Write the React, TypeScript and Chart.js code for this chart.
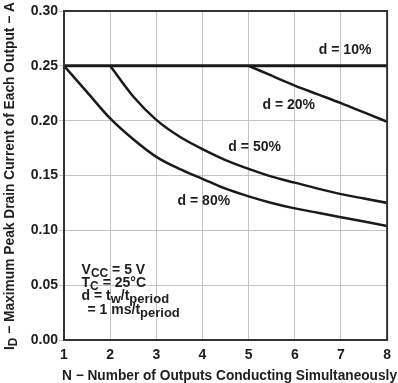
import React, { useEffect, useRef } from "react";
import { Chart, registerables } from "chart.js";

Chart.register(...registerables);

// Number of outputs conducting simultaneously
const N = [1, 1.5, 2, 2.5, 3, 3.5, 4, 4.5, 5, 5.5, 6, 6.5, 7, 7.5, 8];
// Maximum peak drain current (A) per duty cycle
const d10 = [0.25, 0.25, 0.25, 0.25, 0.25, 0.25, 0.25, 0.25, 0.25, 0.25, 0.25, 0.25, 0.25, 0.25, 0.25];
const d20 = [null, null, null, null, null, null, null, null, 0.25, 0.241, 0.232, 0.224, 0.216, 0.2075, 0.199];
const d50 = [null, null, 0.25, 0.222, 0.2007, 0.1855, 0.174, 0.164, 0.156, 0.149, 0.1435, 0.138, 0.133, 0.129, 0.125];
const d80 = [0.25, 0.226, 0.202, 0.183, 0.167, 0.156, 0.147, 0.138, 0.131, 0.125, 0.12, 0.116, 0.112, 0.108, 0.104];

const xTicks = [1, 2, 3, 4, 5, 6, 7, 8];
const yTicks = [0, 0.05, 0.1, 0.15, 0.2, 0.25, 0.3];

const curveLabels = [
  { text: "d = 10%", x: 7.09, y: 0.264 },
  { text: "d = 20%", x: 5.87, y: 0.214 },
  { text: "d = 50%", x: 5.13, y: 0.176 },
  { text: "d = 80%", x: 4.03, y: 0.127 },
];

const FONT_FAMILY = '"Liberation Sans", Arial, Helvetica, sans-serif';
const TEXT = "#1e1e1e";

type Part = { t: string; sub?: boolean };

function drawRich(ctx: CanvasRenderingContext2D, parts: Part[], x: number, y: number, size: number, subSize: number) {
  let cx = x;
  for (const p of parts) {
    ctx.font = `bold ${p.sub ? subSize : size}px ${FONT_FAMILY}`;
    ctx.fillText(p.t, cx, p.sub ? y + 3 : y);
    cx += ctx.measureText(p.t).width;
  }
  return cx - x;
}

function richWidth(ctx: CanvasRenderingContext2D, parts: Part[], size: number, subSize: number) {
  let w = 0;
  for (const p of parts) {
    ctx.font = `bold ${p.sub ? subSize : size}px ${FONT_FAMILY}`;
    w += ctx.measureText(p.t).width;
  }
  return w;
}

const toPts = (vals: (number | null)[]) =>
  N.map((x, i) => ({ x, y: vals[i] })).filter((p) => p.y !== null) as { x: number; y: number }[];

const overlay = {
  id: "overlay",
  afterDraw(chart: any) {
    const { ctx, chartArea: a, scales } = chart;
    const xs = scales.x;
    const ys = scales.y;
    ctx.save();
    // frame
    ctx.strokeStyle = "#333";
    ctx.lineWidth = 2;
    ctx.strokeRect(a.left, a.top, a.right - a.left, a.bottom - a.top);

    ctx.fillStyle = TEXT;
    // curve labels
    ctx.font = `bold 14px ${FONT_FAMILY}`;
    ctx.textAlign = "center";
    ctx.textBaseline = "middle";
    for (const l of curveLabels) {
      ctx.fillText(l.text, xs.getPixelForValue(l.x), ys.getPixelForValue(l.y));
    }
    ctx.textAlign = "left";
    ctx.textBaseline = "alphabetic";

    // conditions block
    const bx = xs.getPixelForValue(1.38);
    drawRich(ctx, [{ t: "V" }, { t: "CC", sub: true }, { t: " = 5 V" }], bx, ys.getPixelForValue(0.06), 14, 12);
    drawRich(ctx, [{ t: "T" }, { t: "C", sub: true }, { t: " = 25°C" }], bx, ys.getPixelForValue(0.0483), 14, 12);
    drawRich(ctx, [{ t: "d = t" }, { t: "w", sub: true }, { t: "/t" }, { t: "period", sub: true }], bx, ys.getPixelForValue(0.0365), 14, 13);
    drawRich(ctx, [{ t: "= 1 ms/t" }, { t: "period", sub: true }], xs.getPixelForValue(1.51), ys.getPixelForValue(0.0237), 14, 13);

    // x title
    const xt = "N − Number of Outputs Conducting Simultaneously";
    ctx.font = `bold 14px ${FONT_FAMILY}`;
    const xw = ctx.measureText(xt).width;
    const xTarget = 335;
    ctx.save();
    ctx.translate(62, 380);
    ctx.scale(xTarget / xw, 1);
    ctx.fillText(xt, 0, 0);
    ctx.restore();

    // y title
    const yParts: Part[] = [{ t: "I" }, { t: "D", sub: true }, { t: " − Maximum Peak Drain Current of Each Output − A" }];
    const yw = richWidth(ctx, yParts, 14, 12);
    const yTarget = 348;
    ctx.save();
    ctx.translate(14, 350);
    ctx.rotate(-Math.PI / 2);
    ctx.scale(yTarget / yw, 1);
    drawRich(ctx, yParts, 0, 0, 14, 12);
    ctx.restore();

    ctx.restore();
  },
};

export default function App() {
  const ref = useRef<HTMLCanvasElement | null>(null);
  useEffect(() => {
    if (!ref.current) return;
    const lineDs = (vals: (number | null)[], w: number) => ({
      data: toPts(vals),
      borderColor: "#1a1a1a",
      borderWidth: w,
      pointRadius: 0,
      fill: false,
      cubicInterpolationMode: "monotone" as const,
    });
    const chart = new Chart(ref.current, {
      type: "line",
      data: {
        datasets: [lineDs(d10, 3), lineDs(d20, 2.5), lineDs(d50, 2.5), lineDs(d80, 2.5)],
      },
      options: {
        animation: false,
        responsive: false,
        devicePixelRatio: 1,
        layout: { padding: { top: 11, right: 5, left: 0, bottom: 0 } },
        plugins: { legend: { display: false }, tooltip: { enabled: false } },
        scales: {
          x: {
            type: "linear",
            min: 1,
            max: 8,
            afterBuildTicks: (s: any) => {
              s.ticks = xTicks.map((v) => ({ value: v }));
            },
            ticks: {
              color: TEXT,
              font: { family: FONT_FAMILY, size: 14, weight: "bold" },
              padding: 7,
              maxRotation: 0,
            },
            grid: { color: "#c4c4c4", lineWidth: 1, drawTicks: false },
            border: { color: "#333", width: 2 },
            afterFit: (s: any) => {
              s.height = 43;
            },
          },
          y: {
            type: "linear",
            min: 0,
            max: 0.3,
            afterBuildTicks: (s: any) => {
              s.ticks = yTicks.map((v) => ({ value: v }));
            },
            ticks: {
              color: TEXT,
              font: { family: FONT_FAMILY, size: 14, weight: "bold" },
              padding: 1,
              callback: (v: any) => Number(v).toFixed(2),
            },
            grid: { color: "#c4c4c4", lineWidth: 1, tickLength: 5 },
            border: { color: "#333", width: 2 },
            afterFit: (s: any) => {
              s.width = 64;
            },
          },
        },
      },
      plugins: [overlay],
    });
    return () => chart.destroy();
  }, []);
  return (
    <div style={{ position: "fixed", left: 0, top: 0, width: 398, height: 383, background: "#fff" }}>
      <canvas ref={ref} width={398} height={383} style={{ display: "block" }} />
    </div>
  );
}
